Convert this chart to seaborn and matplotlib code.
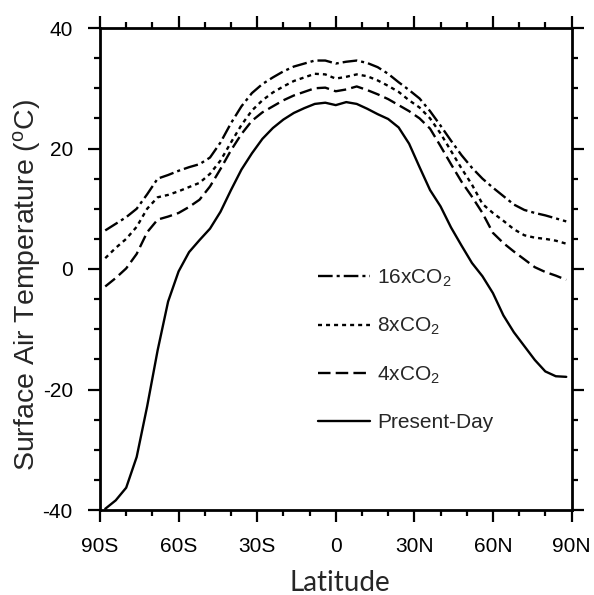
import numpy as np
import pandas as pd
import matplotlib
matplotlib.use("Agg")
import matplotlib.pyplot as plt
import seaborn as sns

lat = [-88, -84, -80, -76, -72, -68, -64, -60, -56, -52, -48, -44, -40, -36,
       -32, -28, -24, -20, -16, -12, -8, -4, 0, 4, 8, 12, 16, 20, 24, 28, 32,
       36, 40, 44, 48, 52, 56, 60, 64, 68, 72, 76, 80, 84, 88]

present_day = [-39.8, -38.4, -36.3, -31.2, -22.8, -13.5, -5.4, -0.4, 2.8, 4.8,
               6.7, 9.5, 13.1, 16.5, 19.2, 21.6, 23.4, 24.8, 25.9, 26.7, 27.4,
               27.6, 27.2, 27.7, 27.4, 26.6, 25.7, 24.9, 23.5, 20.8, 16.9, 13.1,
               10.4, 6.9, 3.9, 1.0, -1.2, -4.0, -7.7, -10.5, -12.8, -15.1, -17.0,
               -17.8, -17.9]

co2_4x = [-2.9, -1.5, 0.1, 2.5, 6.1, 8.2, 8.7, 9.3, 10.3, 11.5, 13.7, 16.6,
          19.7, 22.4, 24.6, 26.0, 27.0, 28.0, 28.8, 29.4, 30.0, 30.1, 29.5,
          29.8, 30.3, 29.7, 29.0, 28.2, 27.2, 26.2, 25.0, 23.3, 20.4, 17.4,
          14.5, 12.0, 9.3, 6.0, 4.3, 2.9, 1.6, 0.3, -0.5, -1.1, -1.8]

co2_8x = [1.8, 3.5, 5.0, 7.0, 10.0, 11.9, 12.3, 12.9, 13.6, 14.3, 15.8, 18.0,
          21.0, 23.9, 26.3, 28.0, 29.3, 30.3, 31.2, 31.8, 32.4, 32.3, 31.6,
          31.9, 32.3, 32.0, 31.3, 30.4, 29.4, 28.0, 26.8, 25.0, 22.5, 19.6,
          16.7, 14.0, 10.8, 9.3, 8.0, 6.6, 5.6, 5.2, 5.0, 4.7, 4.2]

co2_16x = [6.4, 7.5, 8.6, 10.0, 12.4, 15.0, 15.6, 16.3, 16.9, 17.4, 18.5, 21.0,
           24.2, 27.0, 29.2, 30.7, 31.8, 32.8, 33.6, 34.1, 34.6, 34.6, 34.1,
           34.4, 34.6, 34.2, 33.5, 32.4, 31.0, 29.7, 28.3, 26.2, 23.8, 21.3,
           18.9, 16.8, 15.0, 13.5, 12.1, 10.7, 9.8, 9.3, 8.9, 8.4, 7.9]

series_names = ["16xCO$_2$", "8xCO$_2$", "4xCO$_2$", "Present-Day"]
series_values = [co2_16x, co2_8x, co2_4x, present_day]

xtick_vals = [-90, -60, -30, 0, 30, 60, 90]
xtick_labels = ["90S", "60S", "30S", "0", "30N", "60N", "90N"]
ytick_vals = [-40, -20, 0, 20, 40]

df = pd.concat([pd.DataFrame({"lat": lat, "T": v, "run": n})
                for n, v in zip(series_names, series_values)], ignore_index=True)

sns.set_style("ticks")
plt.rcParams["font.family"] = ["Liberation Sans", "DejaVu Sans"]
plt.rcParams["mathtext.fontset"] = "custom"
plt.rcParams["mathtext.rm"] = "Liberation Sans"
plt.rcParams["mathtext.it"] = "Liberation Sans"
plt.rcParams["axes.unicode_minus"] = False

fig = plt.figure(figsize=(5.94, 5.95), dpi=100)
ax = fig.add_axes([100 / 594, 1 - 510 / 595, 471.5 / 594, 482 / 595])

dash_map = {
    "16xCO$_2$": (6.2, 1.7, 1.3, 1.7),
    "8xCO$_2$": (1.7, 1.7),
    "4xCO$_2$": (5.3, 2.2),
    "Present-Day": "",
}
sns.lineplot(data=df, x="lat", y="T", style="run", style_order=series_names,
             dashes=dash_map, color="black", linewidth=1.7, legend=False,
             sort=False, estimator=None, ax=ax)

ax.set_xlim(-90, 90)
ax.set_ylim(-40, 40)
ax.set_xticks(xtick_vals)
ax.set_xticklabels(xtick_labels)
ax.set_xticks(np.arange(-90, 91, 10), minor=True)
ax.set_yticks(ytick_vals)
ax.set_yticks(np.arange(-40, 41, 5), minor=True)
ax.tick_params(which="both", direction="out", top=True, right=True,
               width=1.6, colors="black", labelsize=15)
ax.tick_params(which="major", length=8.6, pad=11)
ax.tick_params(which="minor", length=4.3)
for s in ax.spines.values():
    s.set_linewidth(2.0)
    s.set_color("black")

ax.set_xlabel("Latitude", fontsize=20, family=["Lato", "DejaVu Sans"])
ax.xaxis.label.set_va("baseline")
ax.xaxis.set_label_coords(0.509, -0.169)
ax.set_ylabel("Surface Air Temperature ($^{o}$C)", fontsize=20.5)
ax.yaxis.set_label_coords(-0.121, 0.467)

handles = ax.get_lines()[:4]
ax.legend(handles, series_names, loc="upper left", bbox_to_anchor=(0.462, 0.503),
          frameon=False, fontsize=15, handlelength=2.5, handletextpad=0.35,
          labelspacing=1.31, borderpad=0, borderaxespad=0)

fig.savefig("out.png", dpi=100)
